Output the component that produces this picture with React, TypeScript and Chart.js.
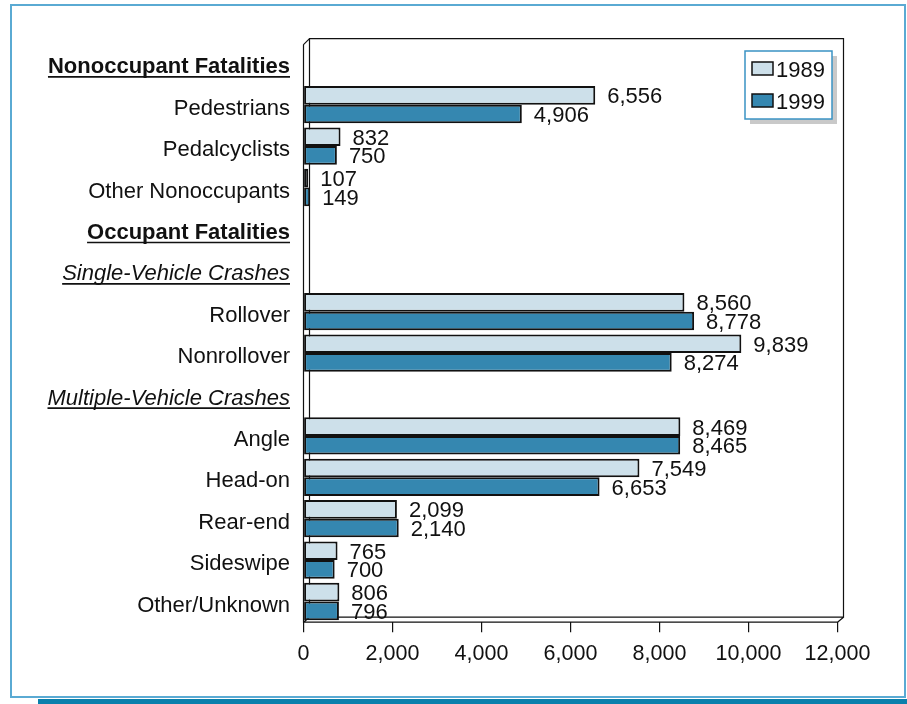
import { useEffect, useRef } from 'react';
import { Chart, registerables } from 'chart.js';

Chart.register(...registerables);

const FONT = '"Liberation Sans", Arial, Helvetica, sans-serif';

// Row labels, top to bottom; header rows carry no bars.
const categories = [
  'Nonoccupant Fatalities',
  'Pedestrians',
  'Pedalcyclists',
  'Other Nonoccupants',
  'Occupant Fatalities',
  'Single-Vehicle Crashes',
  'Rollover',
  'Nonrollover',
  'Multiple-Vehicle Crashes',
  'Angle',
  'Head-on',
  'Rear-end',
  'Sideswipe',
  'Other/Unknown',
];

const labelStyles = [
  'bold', 'plain', 'plain', 'plain',
  'bold', 'italic', 'plain', 'plain',
  'italic', 'plain', 'plain', 'plain', 'plain', 'plain',
];

const values1989: (number | null)[] = [
  null, 6556, 832, 107, null, null, 8560, 9839, null, 8469, 7549, 2099, 765, 806,
];
const values1999: (number | null)[] = [
  null, 4906, 750, 149, null, null, 8778, 8274, null, 8465, 6653, 2140, 700, 796,
];

const seriesNames = ['1989', '1999'];
const seriesColors = ['#cde0ea', '#3587b0'];

const xMin = 0;
const xMax = 12000;
const xStep = 2000;

const fmt = (v: number) => v.toLocaleString('en-US');

const decorPlugin = {
  id: 'decor',
  beforeDraw(chart: any) {
    const ctx = chart.ctx as CanvasRenderingContext2D;
    ctx.save();
    ctx.fillStyle = '#ffffff';
    ctx.fillRect(0, 0, chart.width, chart.height);
    // outer frame
    ctx.strokeStyle = '#5aaad3';
    ctx.lineWidth = 2;
    ctx.strokeRect(11, 5, 894, 692);
    // bottom accent band
    ctx.fillStyle = '#0a80ac';
    ctx.fillRect(38, 699, 869, 5);
    ctx.restore();
  },
  beforeDatasetsDraw(chart: any) {
    const ctx = chart.ctx as CanvasRenderingContext2D;
    const { left: L, right: R, top: T, bottom: B } = chart.chartArea;
    const dx = 6;
    const dy = 5;
    ctx.save();
    ctx.strokeStyle = '#111';
    ctx.lineWidth = 1.2;
    ctx.beginPath();
    // back wall
    ctx.moveTo(L + dx, B - dy);
    ctx.lineTo(L + dx, T - 4);
    ctx.lineTo(R + dx, T - 4);
    ctx.lineTo(R + dx, B - dy);
    ctx.lineTo(L + dx, B - dy);
    // front edges
    ctx.moveTo(L, T + 2);
    ctx.lineTo(L, B);
    ctx.lineTo(R, B);
    // depth edges
    ctx.moveTo(L, T + 2);
    ctx.lineTo(L + dx, T - 4);
    ctx.moveTo(L, B);
    ctx.lineTo(L + dx, B - dy);
    ctx.moveTo(R, B);
    ctx.lineTo(R + dx, B - dy);
    ctx.stroke();
    ctx.restore();
  },
  afterDraw(chart: any) {
    const ctx = chart.ctx as CanvasRenderingContext2D;
    const yScale = chart.scales.y;
    ctx.save();
    ctx.fillStyle = '#111';
    ctx.strokeStyle = '#111';

    // row labels
    const labelRight = 290;
    categories.forEach((name, i) => {
      const style = labelStyles[i];
      const base = yScale.getPixelForValue(i) + 10;
      ctx.font =
        style === 'bold'
          ? `bold 22px ${FONT}`
          : style === 'italic'
          ? `italic 22px ${FONT}`
          : `22px ${FONT}`;
      ctx.textAlign = 'right';
      ctx.textBaseline = 'alphabetic';
      ctx.fillText(name, labelRight, base);
      if (style !== 'plain') {
        const w = ctx.measureText(name).width;
        ctx.lineWidth = 1.6;
        ctx.beginPath();
        ctx.moveTo(labelRight - w, base + 3.6);
        ctx.lineTo(labelRight, base + 3.6);
        ctx.stroke();
      }
    });

    // value labels at bar ends
    ctx.font = `22px ${FONT}`;
    ctx.textAlign = 'left';
    ctx.textBaseline = 'alphabetic';
    chart.data.datasets.forEach((ds: any, di: number) => {
      const meta = chart.getDatasetMeta(di);
      meta.data.forEach((bar: any, i: number) => {
        const v = ds.data[i];
        if (v == null) return;
        ctx.fillText(fmt(v), bar.x + 12, bar.y + 8);
      });
    });

    // legend
    const lx = 745;
    const ly = 51;
    const lw = 87;
    const lh = 68;
    ctx.fillStyle = '#c9c9c9';
    ctx.fillRect(lx + 5, ly + 5, lw, lh);
    ctx.fillStyle = '#ffffff';
    ctx.fillRect(lx, ly, lw, lh);
    ctx.strokeStyle = '#3a93c4';
    ctx.lineWidth = 1.5;
    ctx.strokeRect(lx, ly, lw, lh);
    seriesNames.forEach((name, i) => {
      const cy = 69 + i * 32;
      ctx.fillStyle = seriesColors[i];
      ctx.fillRect(752, cy - 7, 21, 13);
      ctx.strokeStyle = '#111';
      ctx.lineWidth = 1.5;
      ctx.strokeRect(752, cy - 7, 21, 13);
      ctx.fillStyle = '#111';
      ctx.font = `22px ${FONT}`;
      ctx.textAlign = 'left';
      ctx.textBaseline = 'alphabetic';
      ctx.fillText(name, 776, cy + 8);
    });
    ctx.restore();
  },
};

export default function App() {
  const canvasRef = useRef<HTMLCanvasElement | null>(null);

  useEffect(() => {
    const canvas = canvasRef.current;
    if (!canvas) return;
    const chart = new Chart(canvas, {
      type: 'bar',
      data: {
        labels: categories,
        datasets: [
          {
            label: seriesNames[0],
            data: values1989,
            backgroundColor: seriesColors[0],
            borderColor: '#111',
            borderWidth: 2,
            borderSkipped: false,
            categoryPercentage: 0.9,
            barPercentage: 1.0,
          },
          {
            label: seriesNames[1],
            data: values1999,
            backgroundColor: seriesColors[1],
            borderColor: '#111',
            borderWidth: 2,
            borderSkipped: false,
            categoryPercentage: 0.9,
            barPercentage: 1.0,
          },
        ],
      },
      options: {
        indexAxis: 'y',
        responsive: false,
        animation: false,
        devicePixelRatio: 1,
        layout: {
          padding: { left: 303.5, top: 42.6, right: 69.5, bottom: 0 },
        },
        plugins: {
          legend: { display: false },
          tooltip: { enabled: false },
        },
        scales: {
          y: {
            type: 'category',
            display: false,
          },
          x: {
            type: 'linear',
            position: 'bottom',
            min: xMin,
            max: xMax,
            border: { display: false },
            grid: {
              display: true,
              drawOnChartArea: false,
              drawTicks: true,
              tickLength: 10,
              color: '#111',
              lineWidth: 1.2,
            },
            ticks: {
              stepSize: xStep,
              color: '#111',
              padding: 9,
              maxRotation: 0,
              autoSkip: false,
              font: { family: FONT, size: 21.5 },
              callback: (v: any) => fmt(Number(v)),
            },
            afterFit: (scale: any) => {
              scale.height = 704 - 622.2;
            },
          },
        },
      },
      plugins: [decorPlugin],
    });
    return () => chart.destroy();
  }, []);

  return (
    <div style={{ position: 'absolute', left: 0, top: 0, width: 907, height: 704 }}>
      <canvas ref={canvasRef} width={907} height={704} style={{ display: 'block' }} />
    </div>
  );
}
